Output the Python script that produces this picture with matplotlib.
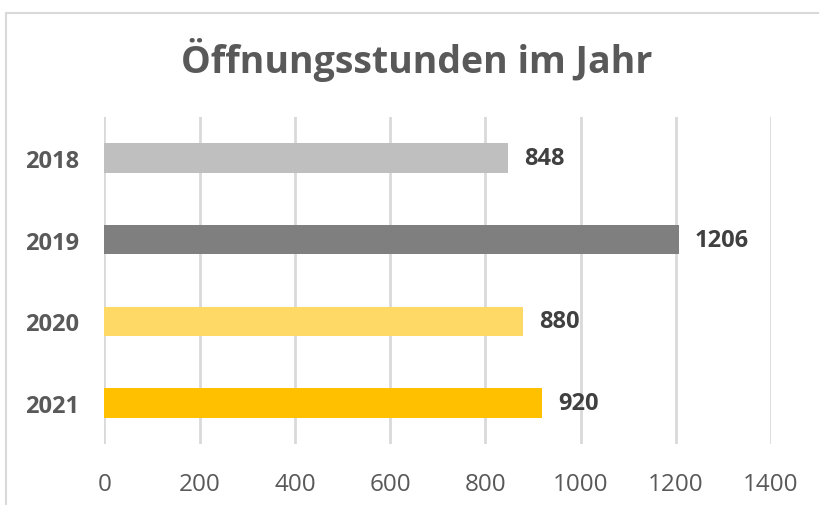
import matplotlib.pyplot as plt
from matplotlib.patches import Rectangle

# data
years = ["2018", "2019", "2020", "2021"]
hours = [848, 1206, 880, 920]
bar_colors = ["#BFBFBF", "#7F7F7F", "#FFD966", "#FFC000"]
x_ticks = [0, 200, 400, 600, 800, 1000, 1200, 1400]

plt.rcParams['font.family'] = ['Open Sans', 'DejaVu Sans']

W, H = 819, 506
fig = plt.figure(figsize=(W / 100, H / 100), dpi=100)

# chart frame (cut off on the right and bottom like the screenshot)
fig.patches.append(Rectangle((5.5 / W, -0.1), 1.2, 1.1 - 13.5 / H, transform=fig.transFigure,
                             fill=False, edgecolor="#D9D9D9", linewidth=1.5))

ax = fig.add_axes([104.5 / W, 1 - 445 / H, (771 - 104.5) / W, (445 - 118) / H])

pos = list(range(len(years)))
ax.barh(pos, hours, height=0.36, color=bar_colors, zorder=3)
ax.set_ylim(len(years) - 0.5, -0.5)
ax.set_xlim(0, 1400)

ax.set_xticks(x_ticks)
ax.set_xticklabels([str(t) for t in x_ticks], fontsize=17.5, color="#595959")
ax.set_yticks(pos)
ax.set_yticklabels(years, fontsize=17, fontweight="bold", color="#595959")
ax.tick_params(axis="x", length=0, pad=20)
ax.tick_params(axis="y", length=0, pad=18)

ax.grid(axis="x", color="#D9D9D9", linewidth=2, zorder=0)
for s in ax.spines.values():
    s.set_visible(False)

for p, v in zip(pos, hours):
    ax.annotate(str(v), (v, p), xytext=(11.5, 0), textcoords="offset points",
                va="center", ha="left", fontsize=17, fontweight="bold", color="#404040")

fig.text(417 / W, 1 - 60 / H, "Öffnungsstunden im Jahr", ha="center", va="center",
         fontsize=27, fontweight="bold", color="#595959")

fig.savefig("out.png", dpi=100)
